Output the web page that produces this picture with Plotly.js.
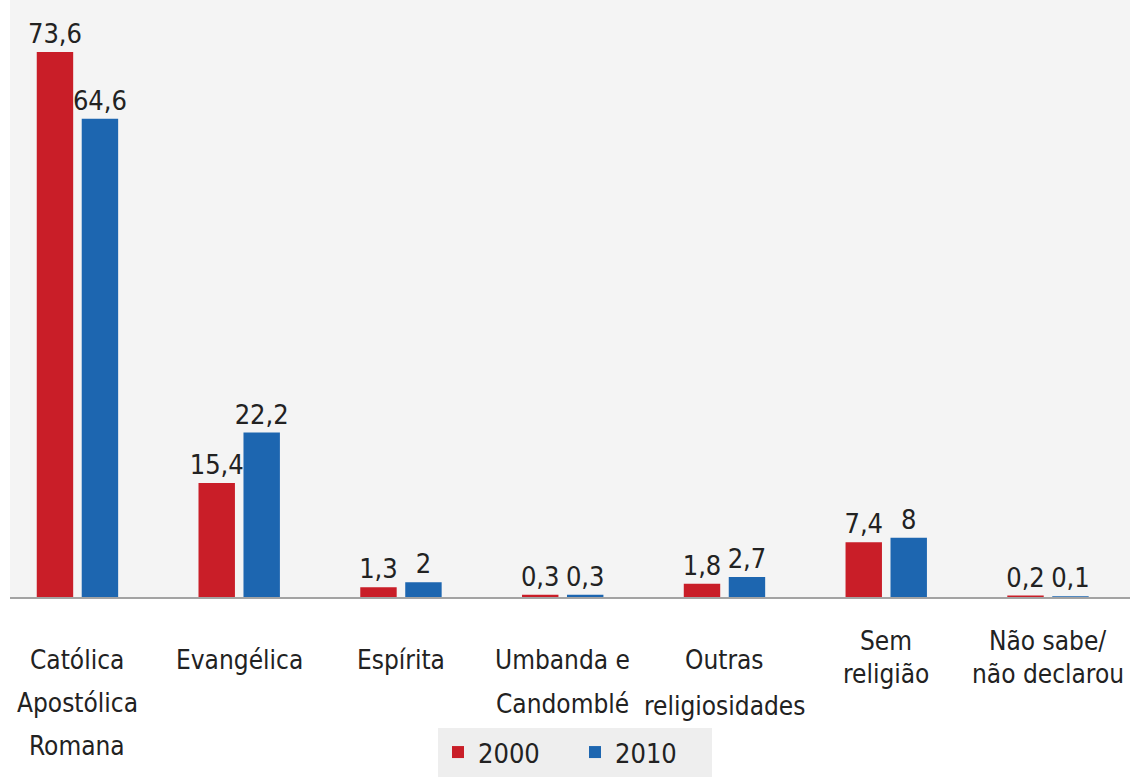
<!DOCTYPE html>
<html>
<head>
<meta charset="utf-8">
<script src="https://cdn.plot.ly/plotly-3.0.1.min.js"></script>
<style>
  html, body { margin: 0; padding: 0; background: #ffffff; }
  #chart { width: 1130px; height: 782px; }
</style>
</head>
<body>
<div id="chart"></div>
<script>
// ---- data ----
const categories = [
  'Católica Apostólica Romana',
  'Evangélica',
  'Espírita',
  'Umbanda e Candomblé',
  'Outras religiosidades',
  'Sem religião',
  'Não sabe/ não declarou'
];
const categoryLines = [
  ['Católica', 'Apostólica', 'Romana'],
  ['Evangélica'],
  ['Espírita'],
  ['Umbanda e', 'Candomblé'],
  ['Outras', 'religiosidades'],
  ['Sem', 'religião'],
  ['Não sabe/', 'não declarou']
];
const seriesNames = ['2000', '2010'];
const values2000 = [73.6, 15.4, 1.3, 0.3, 1.8, 7.4, 0.2];
const values2010 = [64.6, 22.2, 2, 0.3, 2.7, 8, 0.1];

// ---- style ----
const FONT = '"DejaVu Sans Condensed", "Liberation Sans", sans-serif';
const colors = ['#c91e28', '#1d66b0'];
const textColor = '#222222';
// label line positions (pixels from top) – layout only
const labelFirstLine = [660, 660, 660, 660, 660, 641, 641];
const labelLineStep = [43, 43, 43, 44, 46, 33, 33];

const plotTop = 0, plotBottomPx = 597, figH = 782;
const plotH = plotBottomPx - plotTop;
const fmt = v => String(v).replace('.', ',');

const traces = [values2000, values2010].map((vals, i) => ({
  type: 'bar',
  name: seriesNames[i],
  x: categories,
  y: vals,
  marker: { color: colors[i] },
  text: vals.map(fmt),
  textposition: 'outside',
  constraintext: 'none',
  cliponaxis: false,
  textfont: { family: FONT, size: 27, color: textColor },
  hoverinfo: 'x+y+name'
}));

const annotations = [];
categoryLines.forEach((lines, ci) => {
  lines.forEach((ln, li) => {
    const py = labelFirstLine[ci] + li * labelLineStep[ci];
    annotations.push({
      xref: 'x', yref: 'paper',
      x: categories[ci],
      y: (plotBottomPx - py) / plotH,
      text: ln,
      showarrow: false,
      xanchor: 'center', yanchor: 'middle',
      borderpad: 0,
      font: { family: FONT, size: 26, color: textColor }
    });
  });
});

const layout = {
  width: 1130, height: 782,
  margin: { l: 10, r: 0, t: plotTop, b: figH - plotBottomPx, pad: 0 },
  paper_bgcolor: '#ffffff',
  plot_bgcolor: '#f4f4f4',
  barmode: 'group',
  bargap: 0.444,
  bargroupgap: 0.19,
  showlegend: true,
  legend: {
    orientation: 'h',
    x: (575 - 10) / 1120, xanchor: 'center',
    y: (plotBottomPx - 728) / plotH, yanchor: 'top',
    bgcolor: '#eeeeee',
    font: { family: FONT, size: 27, color: textColor },
    entrywidth: 92,
    entrywidthmode: 'pixels'
  },
  xaxis: {
    type: 'category',
    range: [-0.417, 6.507],
    showticklabels: false,
    ticks: '',
    showgrid: false,
    zeroline: false,
    showline: true,
    linecolor: '#a3a3a3',
    linewidth: 2,
    fixedrange: true
  },
  yaxis: {
    range: [0, 80.62],
    visible: false,
    showgrid: false,
    zeroline: false,
    fixedrange: true
  },
  annotations: annotations
};

Plotly.newPlot('chart', traces, layout, { displayModeBar: false, staticPlot: true });
</script>
</body>
</html>
